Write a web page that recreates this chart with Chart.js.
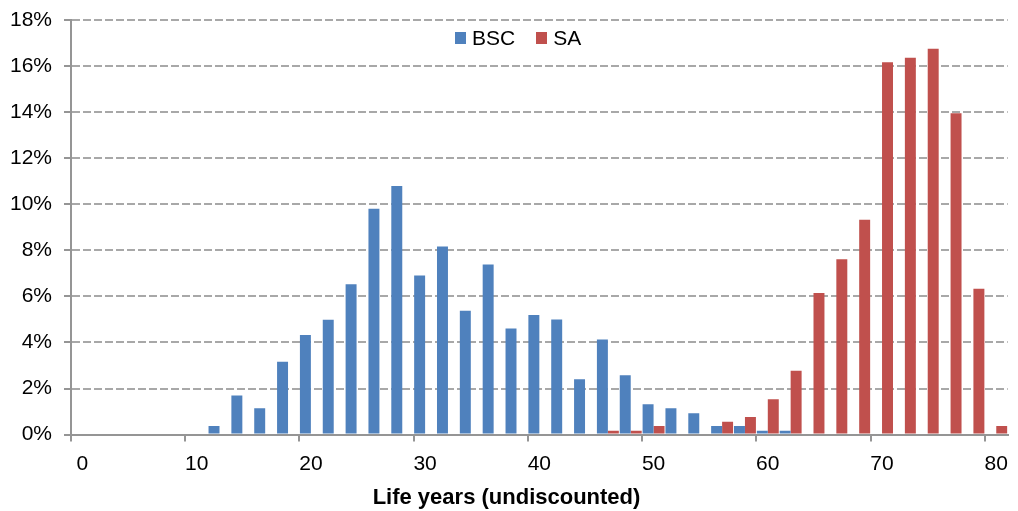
<!DOCTYPE html>
<html>
<head>
<meta charset="utf-8">
<title>Life years (undiscounted)</title>
<script src="https://cdn.jsdelivr.net/npm/chart.js@4/dist/chart.umd.min.js"></script>
<style>
  html, body { margin: 0; padding: 0; background: #fff; }
  #wrap { position: relative; width: 1018px; height: 511px; }
  #legend {
    position: absolute; top: 26px; left: 455px;
    display: flex; align-items: center;
    font: 21px "Liberation Sans", Arial, sans-serif; color: #000;
  }
  #legend .item { display: flex; align-items: center; margin-right: 21px; }
  #legend .box { width: 11px; height: 12px; margin-right: 6px; }
</style>
</head>
<body>
<div id="wrap">
  <canvas id="lifeChart" width="1018" height="511"></canvas>
  <div id="legend"></div>
</div>
<script>
// age bins (years), one bar pair per bin
const ages = [0, 2, 4, 6, 8, 10, 12, 14, 16, 18, 20, 22, 24, 26, 28, 30, 32, 34, 36, 38, 40,
              42, 44, 46, 48, 50, 52, 54, 56, 58, 60, 62, 64, 66, 68, 70, 72, 74, 76, 78, 80];

// share of patients per bin, %
const bsc = [0, 0, 0, 0, 0, 0, 0.37, 1.70, 1.14, 3.16, 4.32, 4.99, 6.53, 9.81, 10.79, 6.91, 8.17,
             5.38, 7.39, 4.61, 5.19, 5.00, 2.40, 4.13, 2.58, 1.32, 1.14, 0.93, 0.37, 0.37, 0.17,
             0.17, 0, 0, 0, 0, 0, 0, 0, 0, 0];
const sa = [0, 0, 0, 0, 0, 0, 0, 0, 0, 0, 0, 0, 0, 0, 0, 0, 0, 0, 0, 0, 0, 0, 0, 0.17, 0.17,
            0.37, 0, 0, 0.56, 0.76, 1.53, 2.77, 6.15, 7.61, 9.33, 16.17, 16.36, 16.75, 13.95,
            6.33, 0.37];

const yTicks = [0, 2, 4, 6, 8, 10, 12, 14, 16, 18];

const FONT = '"Liberation Sans", Arial, sans-serif';
const AXIS_GREY = '#959595';

const datasets = [
  { label: 'BSC', data: bsc, backgroundColor: '#4F81BD' },
  { label: 'SA', data: sa, backgroundColor: '#C0504D' }
];

new Chart(document.getElementById('lifeChart'), {
  type: 'bar',
  data: {
    labels: ages,
    datasets: datasets.map(d => Object.assign({ categoryPercentage: 0.96, barPercentage: 1.0, borderWidth: 0 }, d))
  },
  options: {
    responsive: false,
    animation: false,
    layout: { padding: { left: 0, right: 5, top: 20, bottom: 0 } },
    plugins: {
      legend: { display: false },
      tooltip: { enabled: false },
      title: {
        display: true,
        position: 'bottom',
        text: 'Life years (undiscounted)',
        color: '#000',
        font: { family: FONT, size: 22, weight: 'bold', lineHeight: 1.2 },
        padding: { top: 0, bottom: 0 }
      }
    },
    scales: {
      x: {
        offset: true,
        afterFit: s => { s.height = 50; },
        grid: {
          offset: true,
          drawOnChartArea: false,
          tickLength: 7,
          lineWidth: 2,
          color: c => (c.index % 5 === 0 ? AXIS_GREY : 'rgba(0,0,0,0)')
        },
        border: { display: true, color: AXIS_GREY, width: 2 },
        ticks: {
          autoSkip: false,
          maxRotation: 0,
          padding: 10,
          color: '#000',
          font: { family: FONT, size: 21 },
          callback: (v, i) => (i % 5 === 0 ? String(ages[i]) : '')
        }
      },
      y: {
        min: 0,
        max: 18,
        // fixed axis width; top label is allowed to overhang the plot
        afterFit: s => { s.width = 71; s.paddingTop = 0; },
        afterBuildTicks: s => { s.ticks = yTicks.map(v => ({ value: v })); },
        grid: {
          color: '#a8a8a8',
          lineWidth: 2,
          tickLength: 7,
          tickColor: AXIS_GREY
        },
        border: { display: true, color: AXIS_GREY, width: 2, dash: [8, 3] },
        ticks: {
          padding: 12,
          color: '#000',
          font: { family: FONT, size: 21 },
          callback: v => v + '%'
        }
      }
    }
  }
});

// legend sits inside the plot, just under the top gridline
const legendEl = document.getElementById('legend');
datasets.forEach(d => {
  const item = document.createElement('div');
  item.className = 'item';
  const box = document.createElement('span');
  box.className = 'box';
  box.style.background = d.backgroundColor;
  const txt = document.createElement('span');
  txt.textContent = d.label;
  item.appendChild(box);
  item.appendChild(txt);
  legendEl.appendChild(item);
});
</script>
</body>
</html>
